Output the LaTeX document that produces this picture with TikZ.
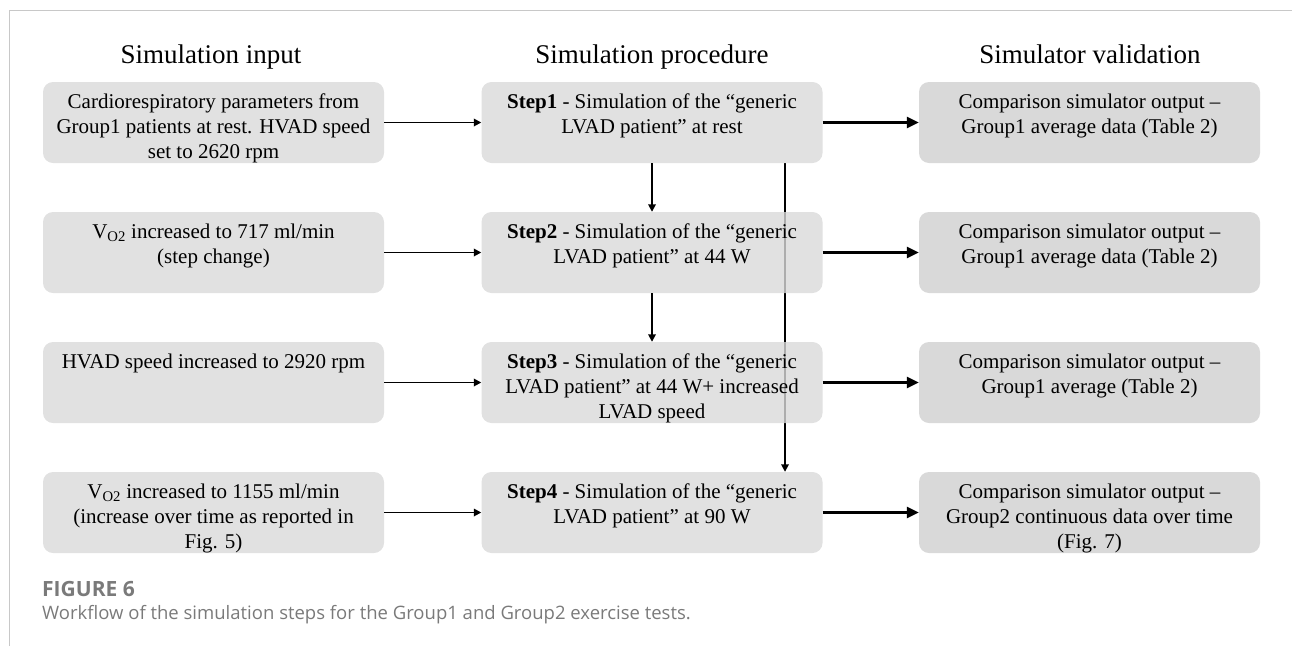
\documentclass[tikz,border=0pt]{standalone}
\usepackage{fontspec}
\setmainfont{Liberation Serif}
\newfontfamily\capfont{Open Sans}
\usetikzlibrary{arrows.meta}
\pgfdeclarelayer{background}
\pgfsetlayers{background,main}
\definecolor{boxgray}{HTML}{E1E1E1}
\definecolor{procgray}{HTML}{D9D9D9}
\definecolor{valgray}{HTML}{D9D9D9}
\definecolor{framegray}{HTML}{C8C8C8}
\definecolor{capgray}{HTML}{7A7A7A}
\newcommand{\boxtext}[1]{\parbox[c][64pt][t]{335pt}{\centering\strut #1}}

\begin{document}
\begin{tikzpicture}[x=1pt, y=-1pt,
    card/.style={fill=boxgray, rounded corners=10pt, minimum width=341pt,
        minimum height=81pt, inner xsep=3pt, inner ysep=8.5pt,
        font=\fontsize{21}{25}\selectfont},
    proc/.style={card, fill=procgray, fill opacity=0.8, text opacity=1},
    valid/.style={card, fill=valgray},
    head/.style={anchor=base, font=\fontsize{27}{32}\selectfont},
    thinarrow/.style={line width=1.7pt, -{Triangle[length=7.5pt,width=7.5pt]}},
    thickarrow/.style={line width=2.6pt, -{Triangle[length=12pt,width=11pt]}}]
    \useasboundingbox (0,0) rectangle (1292,646);

    % Frame
    \draw[framegray, line width=1pt] (9,646) -- (9,10) -- (1292,10);

    % Column titles
    \node[head] (hin) at (211,63) {Simulation input};
    \node[head] (hproc) at (652,63) {Simulation procedure};
    \node[head] (hval) at (1090,63) {Simulator validation};

    % Simulation input
    \node[card] (in1) at (213.5,122.5) {\boxtext{Cardiorespiratory parameters from\\ Group1 patients at rest. HVAD speed\\ set to 2620 rpm}};
    \node[card] (in2) at (213.5,252.5) {\boxtext{V\textsubscript{O2} increased to 717 ml/min\\ (step change)}};
    \node[card] (in3) at (213.5,382.5) {\boxtext{HVAD speed increased to 2920 rpm}};
    \node[card] (in4) at (213.5,512.5) {\boxtext{V\textsubscript{O2} increased to 1155 ml/min\\ (increase over time as reported in\\ Fig. 5)}};

    % Simulation procedure
    \node[proc] (s1) at (652,122.5) {\boxtext{\textbf{Step1} - Simulation of the “generic\\ LVAD patient” at rest}};
    \node[proc] (s2) at (652,252.5) {\boxtext{\textbf{Step2} - Simulation of the “generic\\ LVAD patient” at 44 W}};
    \node[proc] (s3) at (652,382.5) {\boxtext{\textbf{Step3} - Simulation of the “generic\\ LVAD patient” at 44 W+ increased\\ LVAD speed}};
    \node[proc] (s4) at (652,512.5) {\boxtext{\textbf{Step4} - Simulation of the “generic\\ LVAD patient” at 90 W}};

    % Simulator validation
    \node[valid] (v1) at (1089.5,122.5) {\boxtext{Comparison simulator output –\\ Group1 average data (Table 2)}};
    \node[valid] (v2) at (1089.5,252.5) {\boxtext{Comparison simulator output –\\ Group1 average data (Table 2)}};
    \node[valid] (v3) at (1089.5,382.5) {\boxtext{Comparison simulator output –\\ Group1 average (Table 2)}};
    \node[valid] (v4) at (1089.5,512.5) {\boxtext{Comparison simulator output –\\ Group2 continuous data over time\\ (Fig. 7)}};

    % Arrows
    \foreach \i in {1,...,4} {
        \draw[thinarrow] (in\i.east) -- (s\i.west);
        \draw[thickarrow] (s\i.east) -- (v\i.west);
    }
    \draw[thinarrow] (s1.south) -- (s2.north);
    \draw[thinarrow] (s2.south) -- (s3.north);

    % Step1 -> Step4, behind the boxes
    \coordinate (lane) at (785,0);
    \begin{pgfonlayer}{background}
        \draw[thinarrow] (s1.south -| lane) -- (s4.north -| lane);
    \end{pgfonlayer}

    % Caption
    \node[anchor=base west, inner sep=0pt, text=capgray,
        font=\capfont\bfseries\fontsize{21}{24}\selectfont] (fig) at (42,596) {FIGURE 6};
    \node[anchor=base west, inner sep=0pt, text=capgray,
        font=\capfont\fontsize{18.5}{22}\selectfont] (cap) at (42,619)
        {Workflow of the simulation steps for the Group1 and Group2 exercise tests.};
\end{tikzpicture}
\end{document}
